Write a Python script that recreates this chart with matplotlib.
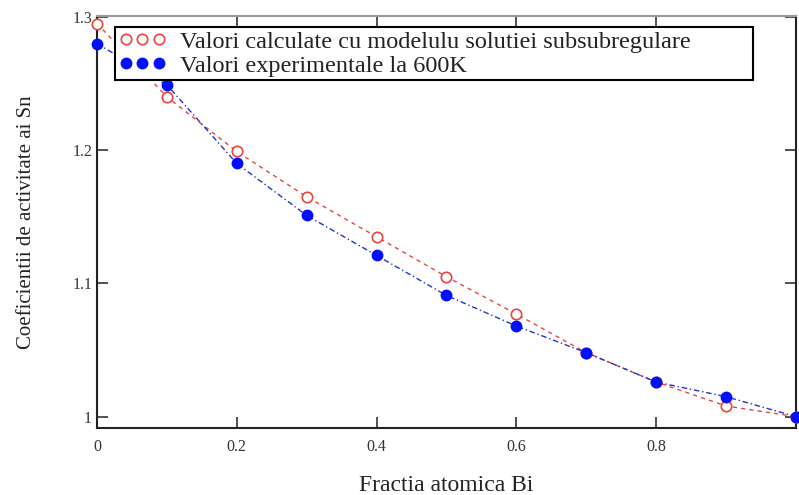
import matplotlib.pyplot as plt

plt.rcParams['font.family'] = ['Liberation Serif', 'DejaVu Serif']

# date
fractia_bi = [0.0, 0.1, 0.2, 0.3, 0.4, 0.5, 0.6, 0.7, 0.8, 0.9, 1.0]
calculate = [1.295, 1.240, 1.199, 1.165, 1.135, 1.105, 1.077, 1.048, 1.026, 1.008, 1.000]
experimentale = [1.280, 1.249, 1.190, 1.151, 1.121, 1.091, 1.068, 1.048, 1.026, 1.015, 1.000]

x_ticks = [0, 0.2, 0.4, 0.6, 0.8]
x_labels = ['0', '0.2', '0.4', '0.6', '0.8']
y_ticks = [1.0, 1.1, 1.2, 1.3]
y_labels = ['1', '1.1', '1.2', '1.3']

fig = plt.figure(figsize=(7.99, 4.95), dpi=100)
ax = fig.add_axes([0.1214, 0.1354, 0.8748, 0.8323])

ax.plot(fractia_bi, calculate, linestyle=(0, (3, 3)), color='#e8453c', linewidth=1,
        marker='o', markersize=7.5, markerfacecolor='white', markeredgecolor='#e8453c',
        markeredgewidth=1.2, label='Valori calculate cu modelulu solutiei subsubregulare',
        clip_on=False, zorder=3)
ax.plot(fractia_bi, experimentale, linestyle=(0, (4, 2, 1, 2)), color='#2233cc', linewidth=1,
        marker='o', markersize=7.5, markerfacecolor='#0010ff', markeredgecolor='#0010ff',
        label='Valori experimentale la 600K', clip_on=False, zorder=4)

ax.set_xlim(0, 1)
ax.set_ylim(0.9915, 1.3007)
ax.set_xticks(x_ticks)
ax.set_xticklabels(x_labels)
ax.set_yticks(y_ticks)
ax.set_yticklabels(y_labels)
ax.tick_params(direction='in', length=8, width=1.2, labelsize=11.5, colors='#333333',
               top=True, right=True)
ax.tick_params(axis='x', pad=8)

for s in ax.spines.values():
    s.set_linewidth(1.5)
    s.set_color('#222222')
ax.spines['top'].set_color('#999999')

ax.set_xlabel('Fractia atomica Bi', fontsize=17, labelpad=14, color='#222222')
ax.set_ylabel('Coeficientii de activitate ai Sn', fontsize=15, labelpad=26, color='#222222')

leg = ax.legend(loc='upper left', bbox_to_anchor=(0.0258, 0.9733, 0.9127, 0.0),
                mode='expand', borderaxespad=0,
                numpoints=3, handlelength=1.96, handletextpad=0.58, fontsize=17.5,
                fancybox=False, edgecolor='black', framealpha=1,
                borderpad=0.15, labelspacing=0.08)
leg.get_frame().set_linewidth(1.5)
for h in leg.legend_handles:
    h.set_linestyle('none')
for t in leg.get_texts():
    t.set_color('#222222')

plt.savefig('out.png', dpi=100)
